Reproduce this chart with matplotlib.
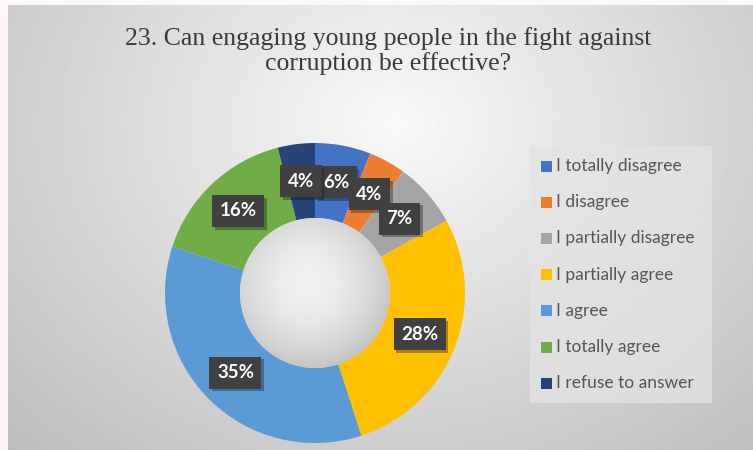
import numpy as np
import matplotlib
matplotlib.use("Agg")
import matplotlib.pyplot as plt
from matplotlib import font_manager
from matplotlib.patches import Circle, Rectangle
import matplotlib.patheffects as pe

# survey answers, in the order they run clockwise from 12 o'clock
answers = ["I totally disagree", "I disagree", "I partially disagree",
           "I partially agree", "I agree", "I totally agree",
           "I refuse to answer"]
shares = [6, 4, 7, 28, 35, 16, 4]
colors = ["#4472C4", "#ED7D31", "#A5A5A5", "#FFC000",
          "#5B9BD5", "#70AD47", "#264478"]

title = "23. Can engaging young people in the fight against\ncorruption be effective?"

plt.rcParams["font.serif"] = ["Liberation Serif", "Times New Roman",
                              "DejaVu Serif"]
serif_file = font_manager.findfont(
    font_manager.FontProperties(family="serif"))
title_font = font_manager.FontProperties(fname=serif_file, size=18.5)

W, H = 753, 450
fig = plt.figure(figsize=(W / 100, H / 100), dpi=100, facecolor="#fdf8f5")
ax = fig.add_axes([0, 0, 1, 1])
ax.set_axis_off()

# soft grey backdrop, brightest near the top middle
yy, xx = np.mgrid[0:H, 0:W]
d = np.sqrt(((xx - 390) / 520.0) ** 2 + ((yy - 120) / 420.0) ** 2)
bg = np.clip(0.975 - 0.22 * d, 0, 1)
ax.imshow(bg, cmap="gray", vmin=0, vmax=1, extent=(8, W, 0, H - 5),
          origin="upper", zorder=0, interpolation="bilinear")

cx, cy, R = 315, 157, 150

wedges, texts, autotexts = ax.pie(
    shares, colors=colors, startangle=90, counterclock=False,
    center=(cx, cy), radius=R, autopct="%.0f%%", pctdistance=0.75,
    wedgeprops=dict(width=R * 0.5, linewidth=0, zorder=2),
    textprops=dict(color="white", fontsize=13.5, fontweight="bold",
                   family=["Lato", "DejaVu Sans"]))
for t in autotexts:
    t.set_bbox(dict(boxstyle="square,pad=0.4", facecolor="#404040",
                    edgecolor="none"))
    t.set_zorder(5)
    t.get_bbox_patch().set_path_effects(
        [pe.SimplePatchShadow(offset=(2, -2), alpha=0.35), pe.Normal()])

# shaded hole in the middle of the ring
r_in = R * 0.5
hole = Circle((cx, cy), r_in, transform=ax.transData)
hy, hx = np.mgrid[0:200, 0:200]
hd = np.sqrt(((hx - 90) / 100.0) ** 2 + ((hy - 85) / 100.0) ** 2)
hv = np.clip(0.94 - 0.13 * hd ** 2, 0, 1)
im = ax.imshow(hv, cmap="gray", vmin=0, vmax=1, origin="upper",
               extent=(cx - r_in, cx + r_in, cy - r_in, cy + r_in),
               zorder=3, interpolation="bilinear")
im.set_clip_path(hole)

ax.set_xlim(0, W)
ax.set_ylim(0, H)
ax.set_aspect("auto")

fig.text(388 / W, 1 - 51 / H, title, ha="center", va="center",
         fontproperties=title_font, color="#3a3a3a", linespacing=1.15)

# legend panel
ax.add_patch(Rectangle((530, H - 403), 182, 257, facecolor="#e4e4e4",
                       edgecolor="none", alpha=0.75, zorder=1))
for i, (lab, c) in enumerate(zip(answers, colors)):
    y = H - (166 + i * 36.2)
    ax.add_patch(Rectangle((541, y - 5.5), 11, 11, facecolor=c,
                           edgecolor="none", zorder=4))
    ax.text(556, y, lab, ha="left", va="center", fontsize=12.5,
            family=["Lato", "DejaVu Sans"], color="#555555", zorder=4)

fig.savefig("out.png", dpi=100, facecolor=fig.get_facecolor())
